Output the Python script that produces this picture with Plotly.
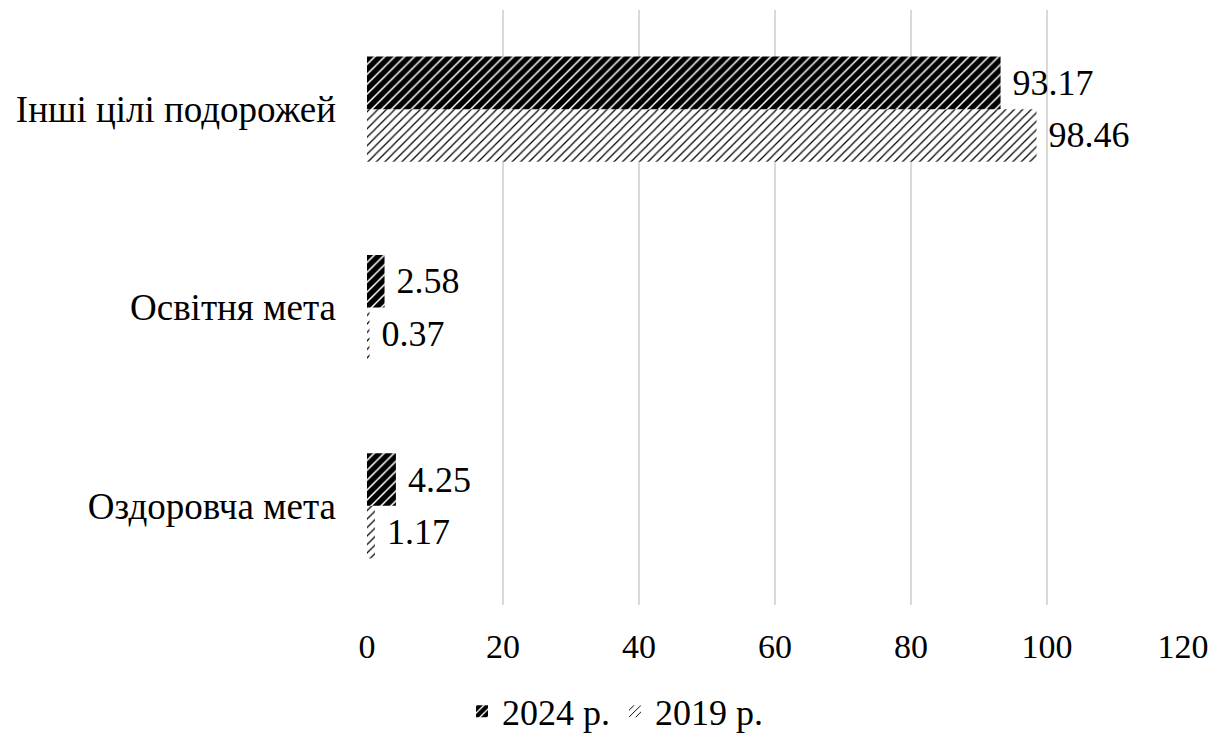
import plotly.graph_objects as go

categories = ["Оздоровча мета", "Освітня мета", "Інші цілі подорожей"]
values_2024 = [4.25, 2.58, 93.17]
values_2019 = [1.17, 0.37, 98.46]
series_names = ["2024 р.", "2019 р."]
tick_vals = [0, 20, 40, 60, 80, 100, 120]

FONT = '"Liberation Serif", "Times New Roman", serif'
NB = "\u00a0"

fig = go.Figure()
fig.add_trace(go.Bar(
    y=categories, x=values_2019, name=series_names[1], orientation="h",
    marker=dict(color="white", line=dict(width=0),
                pattern=dict(shape="/", fgcolor="black", bgcolor="white", fgopacity=1,
                             size=6, solidity=0.2)),
    texttemplate=NB + "%{x}", textposition="outside", cliponaxis=False,
    constraintext="none", textfont=dict(size=36, color="black", family=FONT),
    legendrank=2,
))
fig.add_trace(go.Bar(
    y=categories, x=values_2024, name=series_names[0], orientation="h",
    marker=dict(color="black", line=dict(width=0),
                pattern=dict(shape="/", fgcolor="black", bgcolor="white", fgopacity=1,
                             size=7, solidity=0.78)),
    texttemplate=NB + "%{x}", textposition="outside", cliponaxis=False,
    constraintext="none", textfont=dict(size=36, color="black", family=FONT),
    legendrank=1,
))

fig.update_layout(
    width=1214, height=728,
    margin=dict(l=359, r=39, t=2, b=131, autoexpand=False),
    paper_bgcolor="white", plot_bgcolor="white",
    barmode="group", bargap=0.47, bargroupgap=0,
    font=dict(family=FONT, color="black", size=32),
    xaxis=dict(range=[0, 120], tickvals=tick_vals, showgrid=True, gridcolor="#d9d9d9",
               gridwidth=2, zeroline=False, showline=False, ticks="",
               tickfont=dict(size=34, family=FONT), ticklabelstandoff=18, automargin=False),
    yaxis=dict(showgrid=False, showline=False, ticks="", zeroline=False,
               tickfont=dict(size=37, family=FONT), ticklabelstandoff=30, automargin=False),
    legend=dict(orientation="h", xref="container", yref="container", x=0.5, y=0.034,
                xanchor="center", yanchor="middle", font=dict(size=36, family=FONT),
                itemwidth=30),
    showlegend=True,
)
fig.write_html("out.html")
